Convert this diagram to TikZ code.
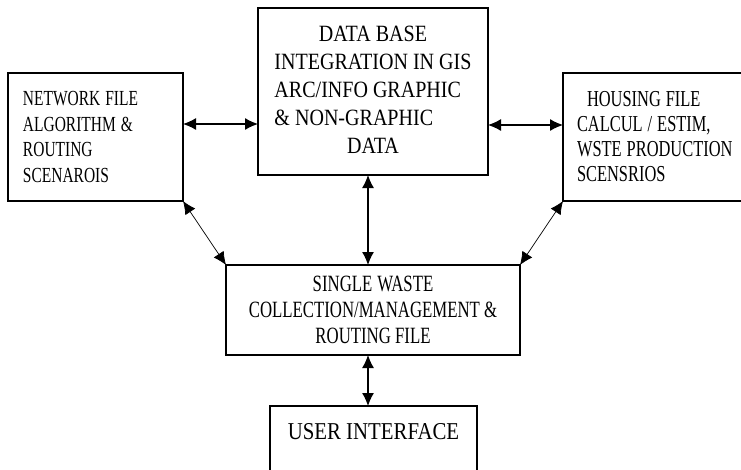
\documentclass[tikz,border=0pt]{standalone}
\usepackage{fontspec}
\setmainfont{Liberation Serif}
\newfontfamily\estret[FakeStretch=0.72]{Liberation Serif}
\newfontfamily\ample[FakeStretch=0.86]{Liberation Serif}
\newcommand\espaiestret{\spaceskip=5pt\relax}
\usetikzlibrary{arrows.meta}

\begin{document}
\begin{tikzpicture}[x=1pt, y=-1pt,
    bloc/.style={draw, line width=1.2pt, anchor=north west,
        inner sep=0pt, outer sep=0pt},
    fletxa/.style={{Latex[length=13pt,width=12pt]}-{Latex[length=13pt,width=12pt]},
        line width=1.2pt},
    fina/.style={fletxa, line width=0.7pt}
    ]
    \useasboundingbox (0,0) rectangle (741,469);
    \node[bloc, minimum width=175pt, minimum height=128pt, text width=145pt,
        align=left, font=\estret\fontsize{21.5}{25.5}\selectfont]
        (xarxa) at (8,73) {\espaiestret NETWORK FILE\\ ALGORITHM \&\\ ROUTING\\ SCENAROIS};
    \node[bloc, minimum width=230pt, minimum height=167pt,
        font=\ample\fontsize{23.3}{28}\selectfont]
        (dades) at (258,8) {\begin{tabular}{@{}l@{}}
            \multicolumn{1}{@{}c@{}}{DATA BASE}\\
            INTEGRATION IN GIS\\
            ARC/INFO GRAPHIC\\
            \& NON-GRAPHIC\\
            \multicolumn{1}{@{}c@{}}{DATA}
        \end{tabular}};
    \node[bloc, minimum width=190pt, minimum height=128pt, text width=162pt,
        align=left, font=\estret\fontsize{22.8}{25}\selectfont]
        (habitatge) at (563,73) {\espaiestret\hspace*{10pt}HOUSING FILE\\ CALCUL / ESTIM,\\ WSTE PRODUCTION\\ SCENSRIOS};
    \node[bloc, minimum width=294pt, minimum height=90pt, align=center,
        font=\estret\fontsize{23.3}{26}\selectfont]
        (residus) at (226,265) {\espaiestret SINGLE WASTE\\ COLLECTION/MANAGEMENT \&\\ ROUTING FILE};
    \node[bloc, minimum width=207pt, text height=33pt, text depth=47pt,
        font=\ample\fontsize{24.2}{27}\selectfont]
        (usuari) at (270,406) {USER INTERFACE};

    % connexions
    \draw[fletxa] ([yshift=13pt]xarxa.east) -- ([yshift=13pt]xarxa.east -| dades.west);
    \draw[fletxa] ([yshift=12pt]habitatge.west -| dades.east) -- ([yshift=12pt]habitatge.west);
    \draw[fletxa] ([xshift=-5pt]dades.south) -- ([xshift=-5pt]dades.south |- residus.north);
    \draw[fletxa] ([xshift=-5pt]residus.south) -- ([xshift=-5pt]residus.south |- usuari.north);
    \draw[fina] (xarxa.south east) -- (residus.north west);
    \draw[fina] (habitatge.south west) -- (residus.north east);
\end{tikzpicture}
\end{document}
